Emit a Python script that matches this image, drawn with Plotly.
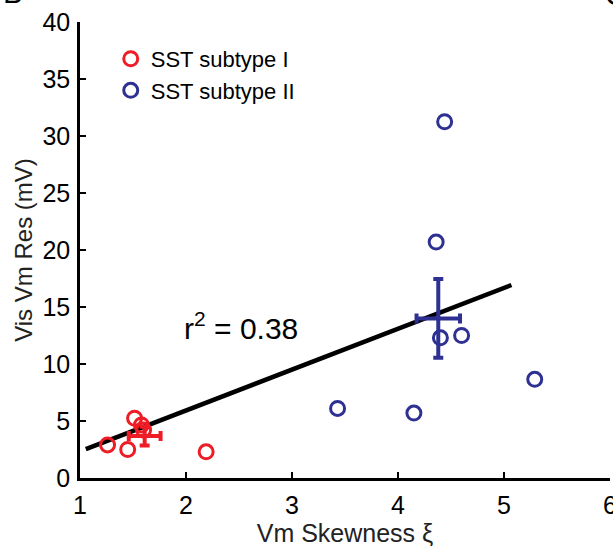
import plotly.graph_objects as go

# ---- data ----
sub1_x = [1.26, 1.45, 1.515, 1.58, 1.60, 2.19]
sub1_y = [2.9, 2.5, 5.24, 4.65, 4.2, 2.3]
sub2_x = [4.44, 4.36, 4.40, 4.60, 5.29, 4.15, 3.43]
sub2_y = [31.25, 20.7, 12.3, 12.5, 8.66, 5.7, 6.1]

mean1 = (1.61, 3.68)
err1 = (0.15, 0.82)
mean2 = (4.38, 14.0)
err2 = (0.205, 3.45)

fit_x = [1.055, 5.07]
fit_intercept = -1.25
fit_slope = 3.586
r2_text = "r<sup>2</sup> = 0.38"

x_ticks = [1, 2, 3, 4, 5, 6]
y_ticks = [0, 5, 10, 15, 20, 25, 30, 35, 40]

RED = "#ee1c25"
BLUE = "#2e3192"
FONT = "Liberation Sans, Arial, sans-serif"

fig = go.Figure()

fig.add_trace(go.Scatter(
    x=fit_x, y=[fit_intercept + fit_slope * v for v in fit_x],
    mode="lines", line=dict(color="black", width=4.5), showlegend=False))

fig.add_trace(go.Scatter(
    x=sub1_x, y=sub1_y, mode="markers", name="SST subtype I",
    marker=dict(symbol="circle-open", size=14, color=RED, line=dict(width=3, color=RED))))
fig.add_trace(go.Scatter(
    x=sub2_x, y=sub2_y, mode="markers", name="SST subtype II",
    marker=dict(symbol="circle-open", size=14, color=BLUE, line=dict(width=3, color=BLUE))))

for m, e, c in [(mean1, err1, RED), (mean2, err2, BLUE)]:
    fig.add_trace(go.Scatter(
        x=[m[0]], y=[m[1]], mode="markers", showlegend=False,
        marker=dict(size=2, color="rgba(0,0,0,0)"),
        error_x=dict(type="data", array=[e[0]], color=c, thickness=4, width=5),
        error_y=dict(type="data", array=[e[1]], color=c, thickness=4, width=5)))

fig.add_annotation(x=1.96, y=13.3, xref="x", yref="y", text=r2_text, showarrow=False,
                   xanchor="left", yanchor="middle", font=dict(family=FONT, size=30, color="black"))
fig.add_annotation(x=-0.126, y=1.024, xref="paper", yref="paper", text="B", showarrow=False,
                   xanchor="center", yanchor="bottom", font=dict(family=FONT, size=30, color="black"))
fig.add_annotation(x=0.987, y=1.02, xref="paper", yref="paper", text="C", showarrow=False,
                   xanchor="left", yanchor="bottom", font=dict(family=FONT, size=30, color="black"))

axis_common = dict(showline=True, linecolor="black", linewidth=2.5, ticks="inside",
                   ticklen=6, tickwidth=2, tickcolor="black", showgrid=False, zeroline=False,
                   automargin=False,
                   tickfont=dict(family=FONT, size=25, color="black"), mirror=False)

fig.update_layout(
    width=613, height=555,
    margin=dict(l=80, r=3, t=22, b=77),
    paper_bgcolor="white", plot_bgcolor="white",
    xaxis=dict(range=[1, 6], tickvals=x_ticks, ticktext=[str(v) for v in x_ticks],
               ticklabeloverflow="allow", ticklabelstandoff=3,
               title=dict(text="Vm Skewness ξ", font=dict(family=FONT, size=25, color="#222"), standoff=6),
               **axis_common),
    yaxis=dict(range=[0, 40], tickvals=y_ticks, ticktext=[str(v) for v in y_ticks],
               ticklabelstandoff=2,
               title=dict(text="Vis Vm Res (mV)", font=dict(family=FONT, size=24, color="#222"), standoff=4),
               **axis_common),
    legend=dict(x=0.058, y=0.965, xanchor="left", yanchor="top",
                font=dict(family=FONT, size=22, color="black"), bgcolor="rgba(0,0,0,0)",
                tracegroupgap=0, itemsizing="trace"),
)

fig.write_html("out.html")
